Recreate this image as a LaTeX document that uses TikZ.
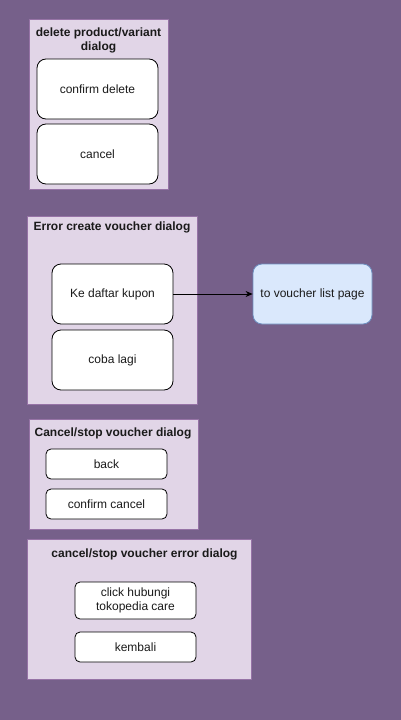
\documentclass[tikz,border=0pt]{standalone}
\usepackage{fontspec}
\setmainfont{Liberation Sans}
\usetikzlibrary{arrows.meta}
\definecolor{bgpurple}{HTML}{76608A}
\definecolor{contfill}{HTML}{E1D5E7}
\definecolor{contline}{HTML}{9673A6}
\definecolor{bluefill}{HTML}{DAE8FC}
\definecolor{blueline}{HTML}{6C8EBF}
\definecolor{txt}{HTML}{1A1A1A}
\begin{document}
\begin{tikzpicture}[x=1pt,y=-1pt,
  container/.style={draw=contline,fill=contfill,line width=0.8pt},
  ctitle/.style={font=\fontsize{12}{14}\selectfont\bfseries,text=txt,align=center,inner sep=0pt},
  bigbtn/.style={draw=black,fill=white,rounded corners=9pt,line width=0.8pt,font=\fontsize{12}{14}\selectfont,text=txt,align=center},
  smallbtn/.style={draw=black,fill=white,rounded corners=5pt,line width=0.8pt,font=\fontsize{12}{14}\selectfont,text=txt,align=center},
  targetbox/.style={draw=blueline,fill=bluefill,rounded corners=9pt,line width=0.8pt,font=\fontsize{12}{14}\selectfont,text=txt,align=center},
  conn/.style={draw=black,line width=0.8pt,-{Stealth[length=7pt,width=6pt]}}]
\fill[bgpurple] (0,0) rectangle (401,720);
\useasboundingbox (0,0) rectangle (401,720);
% container 1
\node[container,minimum width=139pt,minimum height=170pt,anchor=north west] (c1) at (29,19) {};
\node[ctitle] (t1) at (98.5,40) {delete product/variant\\dialog};
\node[bigbtn,minimum width=121pt,minimum height=60pt] (b1) at (97.5,89) {confirm delete};
\node[bigbtn,minimum width=121pt,minimum height=60pt] (b2) at (97.5,154) {cancel};
% container 2
\node[container,minimum width=170pt,minimum height=188pt,anchor=north west] (c2) at (27,216) {};
\node[ctitle] (t2) at (112,227) {Error create voucher dialog};
\node[bigbtn,minimum width=121pt,minimum height=60pt] (b3) at (112.5,294) {Ke daftar kupon};
\node[bigbtn,minimum width=121pt,minimum height=60pt] (b4) at (112.5,360) {coba lagi};
\node[targetbox,minimum width=119pt,minimum height=60pt] (v) at (312.5,294) {to voucher list page};
\draw[conn] (b3.east) -- (v.west);
% container 3
\node[container,minimum width=169pt,minimum height=110pt,anchor=north west] (c3) at (29,419) {};
\node[ctitle] (t3) at (113,433) {Cancel/stop voucher dialog};
\node[smallbtn,minimum width=121pt,minimum height=30pt] (b5) at (106.5,464) {back};
\node[smallbtn,minimum width=121pt,minimum height=30pt] (b6) at (106.5,504) {confirm cancel};
% container 4
\node[container,minimum width=224pt,minimum height=140pt,anchor=north west] (c4) at (27,539) {};
\node[ctitle] (t4) at (144.5,554) {cancel/stop voucher error dialog};
\node[smallbtn,minimum width=121pt,minimum height=37pt,inner sep=0pt] (b7) at (135.5,600.5) {click hubungi\\tokopedia care};
\node[smallbtn,minimum width=121pt,minimum height=30pt] (b8) at (135.5,647) {kembali};
\end{tikzpicture}
\end{document}
